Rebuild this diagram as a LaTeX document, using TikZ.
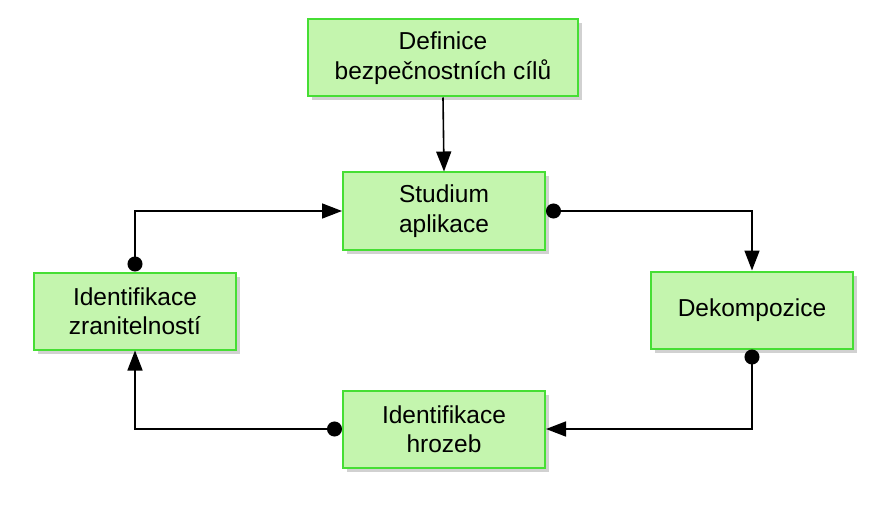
\documentclass[tikz,border=0pt]{standalone}
\usepackage{fontspec}
\setmainfont{Liberation Sans}
\usetikzlibrary{arrows.meta,shadows}

\definecolor{boxfill}{RGB}{196,245,174}
\definecolor{boxline}{RGB}{70,222,52}

\begin{document}
\begin{tikzpicture}[x=1pt,y=-1pt,
	box/.style={draw=boxline, fill=boxfill, line width=2pt,
		minimum width=202pt, minimum height=77pt, align=center,
		font=\fontsize{24.5}{29.5}\selectfont,
		drop shadow={shadow xshift=4pt, shadow yshift=-4pt, fill=black!40, opacity=.45}},
	link/.style={line width=1.6pt, {Circle[length=15pt]}-{Triangle[length=20pt,width=15pt]}},
	feed/.style={line width=1.6pt, -{Triangle[length=20pt,width=15pt]}}]
	\useasboundingbox (0,0) rectangle (884,508);

	%boxes
	\node[box, minimum width=270pt] (definice) at (443,58) {Definice\\bezpečnostních cílů};
	\node[box] (studium) at (444,211) {Studium\\aplikace};
	\node[box] (dekompozice) at (752,310) {Dekompozice};
	\node[box] (hrozby) at (444,429) {Identifikace\\hrozeb};
	\node[box] (zranitelnosti) at (135,311) {Identifikace\\zranitelností};

	%connections
	\draw[feed] (definice.south) -- (studium.north);
	\draw[link] (studium.east) -| (dekompozice.north);
	\draw[link] (dekompozice.south) |- (hrozby.east);
	\draw[link] (hrozby.west) -| (zranitelnosti.south);
	\draw[link] (zranitelnosti.north) |- (studium.west);

\end{tikzpicture}
\end{document}
